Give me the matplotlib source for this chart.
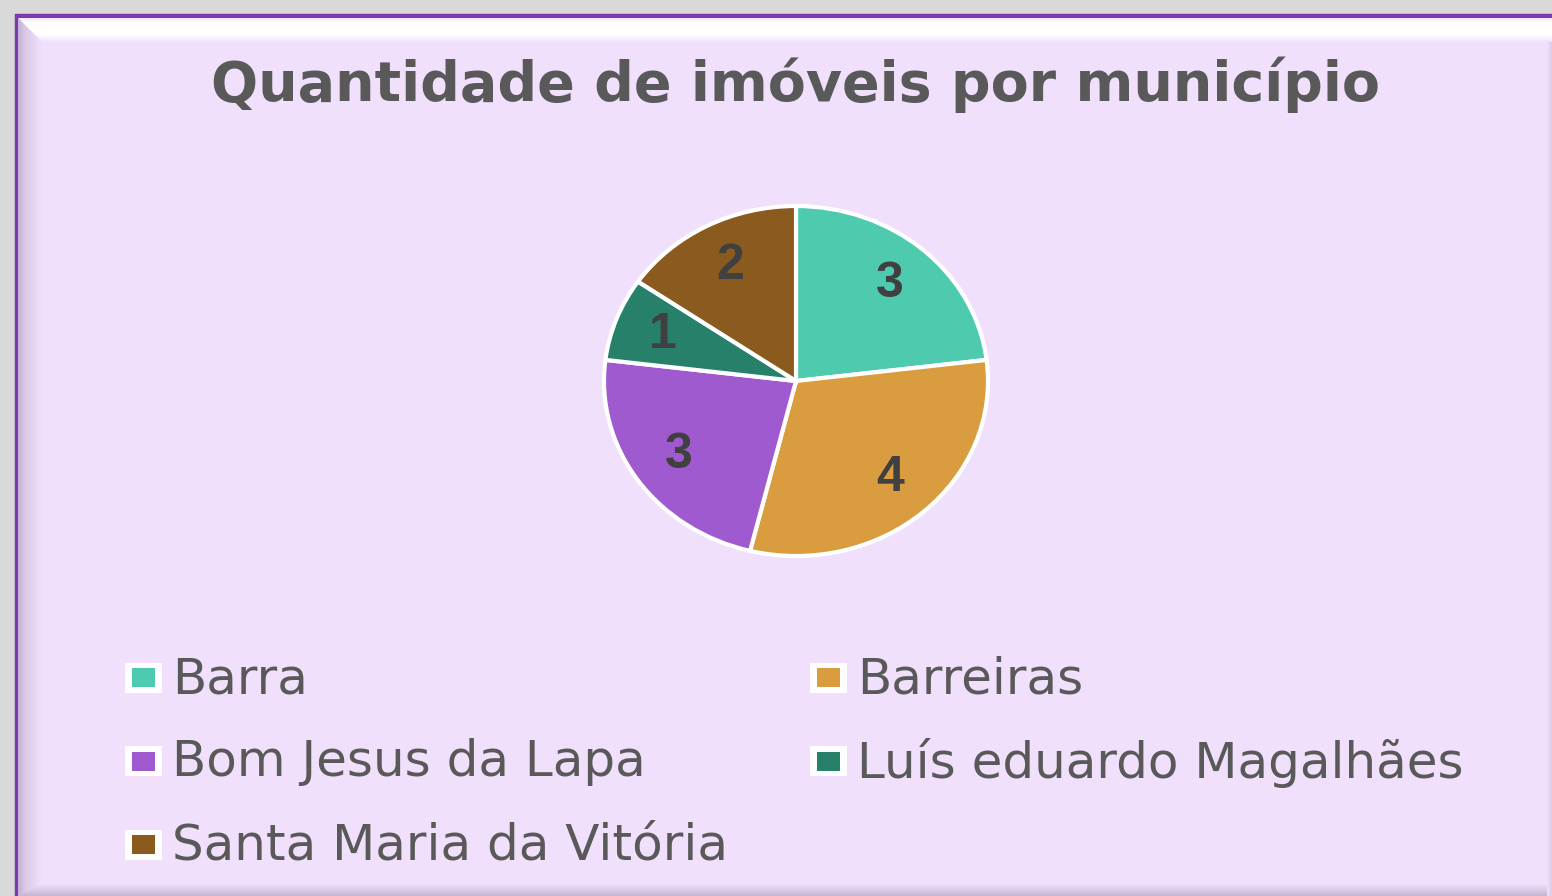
import numpy as np
import matplotlib
matplotlib.use("Agg")
import matplotlib.pyplot as plt
from matplotlib.patches import Polygon, Rectangle

plt.rcParams['font.family'] = ['DejaVu Sans']

# imoveis por municipio
municipios = ['Barra', 'Barreiras', 'Bom Jesus da Lapa',
              'Luís eduardo Magalhães', 'Santa Maria da Vitória']
quantidades = [3, 4, 3, 1, 2]
cores = ['#4ECBAF', '#D99C3E', '#A05ACF', '#26806A', '#8A5A1E']
titulo = 'Quantidade de imóveis por município'

W, H = 1552, 896
fig = plt.figure(figsize=(W / 100, H / 100), dpi=100)
fig.patch.set_facecolor('#D9D9D9')

# fundo em coordenadas de pixel
bg = fig.add_axes([0, 0, 1, 1])
bg.set_xlim(0, W)
bg.set_ylim(H, 0)
bg.axis('off')

fill = '#F0E0FC'
bg.add_patch(Rectangle((16.5, 16.5), W + 20, H + 20, facecolor=fill,
                       edgecolor='#7A3BB0', lw=3.2, zorder=1))


def faixa(poly, stops, vertical):
    # faixa com degrade recortada num poligono (efeito de bisel)
    p = Polygon(poly, closed=True, facecolor='none', edgecolor='none')
    bg.add_patch(p)
    xs = [a for a, b in poly]
    ys = [b for a, b in poly]
    n = 64
    t = np.linspace(0, 1, n)
    pos = [s[0] for s in stops]
    rgb = np.array([matplotlib.colors.to_rgb(s[1]) for s in stops])
    grad = np.stack([np.interp(t, pos, rgb[:, k]) for k in range(3)], axis=1)
    img = grad[:, None, :] if vertical else grad[None, :, :]
    im = bg.imshow(img, extent=(min(xs), max(xs), max(ys), min(ys)),
                   aspect='auto', zorder=2, interpolation='bilinear')
    im.set_clip_path(p)


faixa([(18, 18), (W, 18), (W, 42), (42, 42)],
      [(0, '#F4E8FC'), (0.2, '#FFFFFF'), (0.7, '#FFFFFF'), (1, fill)], True)
faixa([(18, 18), (42, 42), (42, 896), (18, 896)],
      [(0, '#C4B2D2'), (0.35, '#DCCCEA'), (1, fill)], False)
faixa([(18, 896), (42, 884), (W, 884), (W, 896)],
      [(0, fill), (1, '#C6B6D6')], True)
faixa([(W - 5, 42), (W, 42), (W, 896), (W - 5, 896)],
      [(0, fill), (1, '#DCCCE8')], False)

fig.text(796 / W, 1 - 85 / H, titulo, ha='center', va='center',
         fontsize=40, fontweight='bold', color='#595959')

# pizza (levemente eliptica)
ax = fig.add_axes([604 / W, 1 - 556 / H, 384 / W, 350 / H])
wedges, textos = ax.pie(quantidades, colors=cores, startangle=90, counterclock=False,
                        labels=[str(q) for q in quantidades], labeldistance=0.74,
                        wedgeprops=dict(edgecolor='white', linewidth=3),
                        textprops=dict(fontsize=36, fontweight='bold', color='#404040',
                                       family='Liberation Sans',
                                       ha='center', va='center'))
ax.set_aspect('auto')
ax.set_xlim(-1, 1)
ax.set_ylim(-1, 1)
ax.axis('off')
for w in wedges:
    w.set_clip_on(False)

# legenda em duas colunas, preenchida por linha
for i, (nome, cor) in enumerate(zip(municipios, cores)):
    col = i % 2
    lin = i // 2
    x0 = 125 + col * 685
    y0 = 678 + lin * 83.5
    bg.add_patch(Rectangle((x0, y0 - 15), 37, 30, facecolor='white', edgecolor='none', zorder=3))
    bg.add_patch(Rectangle((x0 + 7, y0 - 9.5), 23, 19, facecolor=cor, edgecolor='none', zorder=4))
    bg.text(x0 + 47, y0 + 1, nome, ha='left', va='center', fontsize=36, color='#595959', zorder=4)

fig.savefig('out.png', dpi=100, facecolor=fig.get_facecolor())
